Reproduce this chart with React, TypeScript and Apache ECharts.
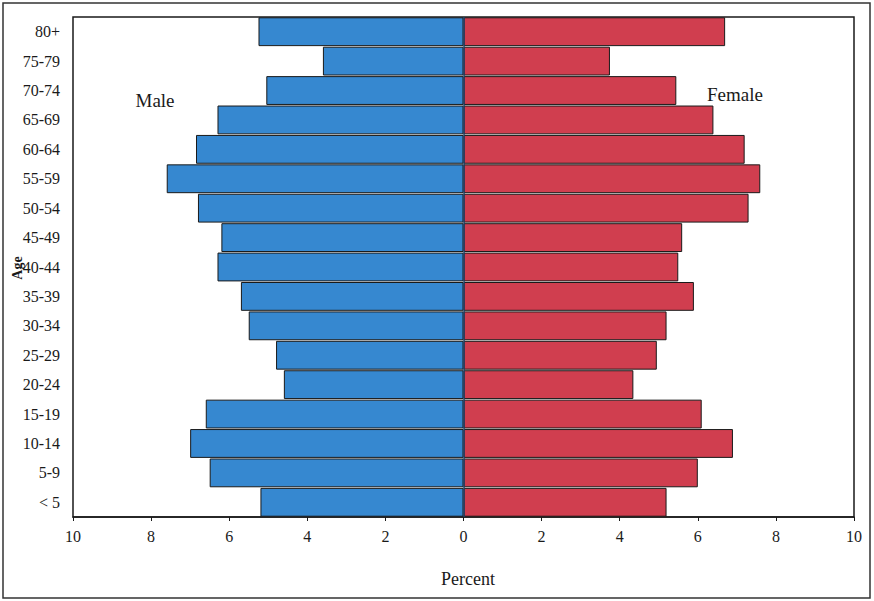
import React, { useEffect, useRef } from "react";
import * as echarts from "echarts";

const ageGroups = ["< 5", "5-9", "10-14", "15-19", "20-24", "25-29", "30-34", "35-39", "40-44", "45-49", "50-54", "55-59", "60-64", "65-69", "70-74", "75-79", "80+"];
const malePercent = [5.2, 6.5, 7.0, 6.6, 4.6, 4.8, 5.5, 5.7, 6.3, 6.2, 6.8, 7.6, 6.85, 6.3, 5.05, 3.6, 5.25];
const femalePercent = [5.2, 6.0, 6.9, 6.1, 4.35, 4.95, 5.2, 5.9, 5.5, 5.6, 7.3, 7.6, 7.2, 6.4, 5.45, 3.75, 6.7];
const xTicks = { min: -10, max: 10, interval: 2 };

const FONT = "'Liberation Serif', 'DejaVu Serif', serif";

export default function App() {
  const ref = useRef<HTMLDivElement>(null);
  useEffect(() => {
    if (!ref.current) return;
    const chart = echarts.init(ref.current, null, { renderer: "svg" });
    chart.setOption({
      animation: false,
      backgroundColor: "#ffffff",
      grid: {
        left: 73,
        top: 17,
        width: 781,
        height: 500,
        show: true,
        borderColor: "#1a1a1a",
        borderWidth: 1.5,
        backgroundColor: "#ffffff",
      },
      xAxis: {
        type: "value",
        min: xTicks.min,
        max: xTicks.max,
        interval: xTicks.interval,
        splitLine: { show: false },
        axisLine: { show: true, onZero: false, lineStyle: { color: "#1a1a1a", width: 1.5 } },
        axisTick: { show: true, length: 4, lineStyle: { color: "#1a1a1a" } },
        axisLabel: {
          margin: 11,
          color: "#1a1a1a",
          fontFamily: FONT,
          fontSize: 16,
          formatter: (v: number) => String(Math.abs(v)),
        },
      },
      yAxis: {
        type: "category",
        data: ageGroups,
        axisLine: { show: false },
        axisTick: { show: false },
        axisLabel: {
          margin: 13,
          color: "#1a1a1a",
          fontFamily: FONT,
          fontSize: 16,
        },
      },
      series: [
        {
          name: "Male",
          type: "bar",
          stack: "pop",
          barCategoryGap: "2%",
          data: malePercent.map((v) => -v),
          itemStyle: { color: "#3688d0", borderColor: "#1a1a1a", borderWidth: 1 },
          markLine: {
            silent: true,
            symbol: "none",
            label: { show: false },
            lineStyle: { color: "#1f3f66", width: 1.5, type: "solid" },
            data: [{ xAxis: 0 }],
          },
        },
        {
          name: "Female",
          type: "bar",
          stack: "pop",
          barCategoryGap: "2%",
          data: femalePercent,
          itemStyle: { color: "#d03e4f", borderColor: "#1a1a1a", borderWidth: 1 },
        },
      ],
      graphic: [
        {
          type: "rect",
          shape: { x: 3, y: 3, width: 867, height: 595 },
          style: { fill: "none", stroke: "#333333", lineWidth: 1.5 },
          silent: true,
        },
        {
          type: "text",
          x: 155,
          y: 100,
          style: { text: "Male", fontFamily: FONT, fontSize: 19, fill: "#1a1a1a", textAlign: "center", textVerticalAlign: "middle" },
        },
        {
          type: "text",
          x: 735,
          y: 94,
          style: { text: "Female", fontFamily: FONT, fontSize: 19, fill: "#1a1a1a", textAlign: "center", textVerticalAlign: "middle" },
        },
        {
          type: "text",
          x: 468,
          y: 579,
          style: { text: "Percent", fontFamily: FONT, fontSize: 18, fill: "#1a1a1a", textAlign: "center", textVerticalAlign: "middle" },
        },
        {
          type: "text",
          x: 17,
          y: 268,
          rotation: Math.PI / 2,
          style: { text: "Age", fontFamily: FONT, fontSize: 14, fontWeight: "bold", fill: "#1a1a1a", textAlign: "center", textVerticalAlign: "middle" },
        },
      ],
    });
    return () => chart.dispose();
  }, []);
  return (
    <div
      ref={ref}
      style={{ position: "fixed", left: 0, top: 0, width: 874, height: 601, background: "#fff" }}
    />
  );
}
